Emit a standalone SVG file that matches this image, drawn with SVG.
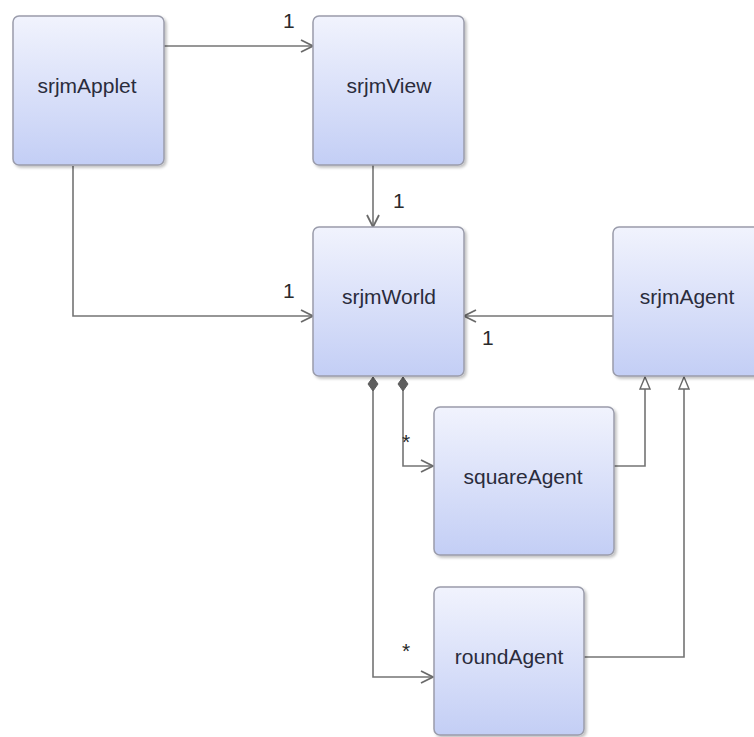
<svg xmlns="http://www.w3.org/2000/svg" width="754" height="737" viewBox="0 0 754 737">
<defs>
<linearGradient id="g" x1="0" y1="0" x2="0" y2="1">
<stop offset="0" stop-color="#f1f3fd"/>
<stop offset="1" stop-color="#c3cef5"/>
</linearGradient>
<filter id="sh" x="-10%" y="-10%" width="130%" height="130%">
<feGaussianBlur in="SourceAlpha" stdDeviation="1.5"/>
<feOffset dx="2" dy="2" result="b"/>
<feComponentTransfer><feFuncA type="linear" slope="0.25"/></feComponentTransfer>
<feMerge><feMergeNode/><feMergeNode in="SourceGraphic"/></feMerge>
</filter>
<marker id="open" viewBox="0 0 14 14" refX="13" refY="7" markerWidth="14" markerHeight="14" markerUnits="userSpaceOnUse" orient="auto">
<path d="M1,1 L13,7 L1,13" fill="none" stroke="#6a6a6a" stroke-width="1.8"/>
</marker>
<marker id="tri" viewBox="0 0 14 12" refX="13" refY="6" markerWidth="14" markerHeight="12" markerUnits="userSpaceOnUse" orient="auto">
<path d="M1,1 L13,6 L1,11 Z" fill="#ffffff" stroke="#6a6a6a" stroke-width="1.4"/>
</marker>
<marker id="dia" viewBox="0 0 16 12" refX="1" refY="6" markerWidth="16" markerHeight="12" markerUnits="userSpaceOnUse" orient="auto">
<path d="M1,6 L8,1 L15,6 L8,11 Z" fill="#5e5e5e" stroke="#5e5e5e" stroke-width="1"/>
</marker>
</defs>
<style>
.box{fill:url(#g);stroke:#9a9cab;stroke-width:1.5;filter:url(#sh)}
.lbl{font-family:"Liberation Sans",Arial,sans-serif;font-size:21px;fill:#2a2c3c;text-anchor:middle}
.m{font-family:"Liberation Sans",Arial,sans-serif;font-size:21px;fill:#2a2a2a}
.c{fill:none;stroke:#747474;stroke-width:1.6}
</style>
<rect width="754" height="737" fill="#ffffff"/>
<g id="connectors">
<path class="c" d="M164,46 L313,46" marker-end="url(#open)"/>
<path class="c" d="M373,165 L373,227" marker-end="url(#open)"/>
<path class="c" d="M73,166 L73,316 L313,316" marker-end="url(#open)"/>
<path class="c" d="M613,316 L464,316" marker-end="url(#open)"/>
<path class="c" d="M403,377 L403,466 L433,466" marker-start="url(#dia)" marker-end="url(#open)"/>
<path class="c" d="M373,377 L373,677 L433,677" marker-start="url(#dia)" marker-end="url(#open)"/>
<path class="c" d="M614,466 L645,466 L645,377" marker-end="url(#tri)"/>
<path class="c" d="M584,657 L684,657 L684,377" marker-end="url(#tri)"/>
<text class="m" x="283" y="28">1</text>
<text class="m" x="393" y="208">1</text>
<text class="m" x="283" y="298">1</text>
<text class="m" x="482" y="345">1</text>
<text class="m" x="402" y="449">*</text>
<text class="m" x="402" y="658">*</text>
</g>
<g id="srjmApplet"><rect class="box" x="13" y="16" width="151" height="149" rx="6"/><text class="lbl" x="87" y="93">srjmApplet</text></g>
<g id="srjmView"><rect class="box" x="313" y="16" width="151" height="149" rx="6"/><text class="lbl" x="389" y="93">srjmView</text></g>
<g id="srjmWorld"><rect class="box" x="313" y="227" width="151" height="149" rx="6"/><text class="lbl" x="389" y="304">srjmWorld</text></g>
<g id="srjmAgent"><rect class="box" x="613" y="227" width="151" height="149" rx="6"/><text class="lbl" x="687" y="304">srjmAgent</text></g>
<g id="squareAgent"><rect class="box" x="434" y="407" width="180" height="148" rx="6"/><text class="lbl" x="523" y="484">squareAgent</text></g>
<g id="roundAgent"><rect class="box" x="434" y="587" width="150" height="148" rx="6"/><text class="lbl" x="509" y="664">roundAgent</text></g>
</svg>
